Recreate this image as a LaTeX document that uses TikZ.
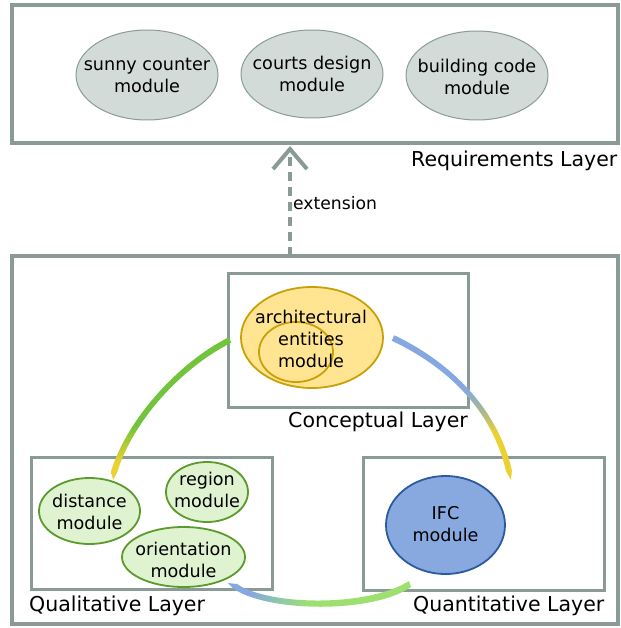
\documentclass[tikz,border=0pt]{standalone}
\usepackage{fontspec}
\setmainfont{DejaVu Sans}
\usetikzlibrary{shapes.geometric,arrows.meta}
\definecolor{boxgray}{HTML}{8A9A96}
\definecolor{reqfill}{HTML}{D3DBD8}
\definecolor{reqline}{HTML}{8A9C96}
\definecolor{yelfill}{HTML}{FFE591}
\definecolor{yelline}{HTML}{C9A008}
\definecolor{grnfill}{HTML}{DFF3D0}
\definecolor{grnline}{HTML}{5B9B2C}
\definecolor{blufill}{HTML}{87A9E0}
\definecolor{bluline}{HTML}{2C5A9E}
\definecolor{arcblue}{HTML}{86A8E0}
\definecolor{arcyel}{HTML}{EBD232}
\definecolor{arcgrn}{HTML}{72C43C}
\definecolor{arclgrn}{HTML}{9EE070}
\definecolor{arcmid}{HTML}{A8B890}
\definecolor{arcteal}{HTML}{8CC8A8}
\definecolor{txt}{HTML}{000000}
\pgfdeclareverticalshading{leftband}{100bp}{color(0bp)=(arcyel); color(31bp)=(arcyel); color(44bp)=(arcgrn); color(100bp)=(arcgrn)}
\pgfdeclareverticalshading{rightband}{100bp}{color(0bp)=(arcyel); color(41bp)=(arcyel); color(49bp)=(arcmid); color(56bp)=(arcblue); color(100bp)=(arcblue)}
\pgfdeclarehorizontalshading{bottomband}{100bp}{color(0bp)=(arcblue); color(31bp)=(arcblue); color(39bp)=(arcteal); color(47bp)=(arclgrn); color(100bp)=(arclgrn)}
\tikzset{
  outerbox/.style={draw=boxgray, line width=4pt, rectangle, inner sep=0pt, outer sep=0pt},
  innerbox/.style={draw=boxgray, line width=3pt, rectangle, fill=white, inner sep=0pt, outer sep=0pt},
  reqmod/.style={ellipse, draw=reqline, line width=1pt, fill=reqfill, inner sep=0pt},
  yelmod/.style={ellipse, draw=yelline, line width=1.8pt, fill=yelfill, inner sep=0pt},
  yelin/.style={ellipse, draw=yelline, line width=1.8pt, inner sep=0pt},
  grnmod/.style={ellipse, draw=grnline, line width=1.8pt, fill=grnfill, inner sep=0pt},
  blumod/.style={ellipse, draw=bluline, line width=1.8pt, fill=blufill, inner sep=0pt},
  modtext/.style={align=center, inner sep=0pt, text=txt, font=\fontsize{17.6}{22}\selectfont},
  layertext/.style={inner sep=0pt, text=txt, font=\fontsize{20.5}{24}\selectfont, anchor=base west},
  exttext/.style={inner sep=0pt, text=txt, font=\fontsize{17.2}{20}\selectfont, anchor=west},
  extarrow/.style={draw=boxgray, line width=4pt, dash pattern=on 9pt off 6pt, -{Straight Barb[length=20pt,width=34pt]}}
}
\begin{document}
\begin{tikzpicture}[x=1pt,y=-1pt]
\useasboundingbox (0,0) rectangle (620,628);
% requirements layer
\node[outerbox, minimum width=606pt, minimum height=138pt] (req) at (315,74) {};
\node[reqmod, minimum width=142pt, minimum height=90pt] (sunny) at (147,75) {};
\node[modtext] (sunnyt) at (sunny) {sunny counter\\module};
\node[reqmod, minimum width=142pt, minimum height=88pt] (courts) at (312,74) {};
\node[modtext] (courtst) at (courts) {courts design\\module};
\node[reqmod, minimum width=142pt, minimum height=89pt] (build) at (477,75.5) {};
\node[modtext] (buildt) at (477,77) {building code\\module};
\node[layertext] (reqlab) at (411,167) {Requirements Layer};
% base
\node[outerbox, minimum width=606pt, minimum height=368pt] (base) at (315,440) {};
\coordinate (extfrom) at (290,256);
\coordinate (extto) at (290,146);
\draw[extarrow] (extfrom) -- (extto);
\node[exttext] (extlab) at (293,203) {extension};
% conceptual
\node[innerbox, minimum width=240pt, minimum height=134pt] (concept) at (348,340) {};
\node[yelmod, minimum width=142pt, minimum height=101pt] (archout) at (312,337.5) {};
\node[yelin, minimum width=74pt, minimum height=60pt] (archin) at (296,352) {};
\node[modtext] (archt) at (311,339) {architectural\\entities\\module};
\node[layertext] (conlab) at (288,427) {Conceptual Layer};
% qualitative
\node[innerbox, minimum width=241pt, minimum height=132pt] (qual) at (151.5,523) {};
\node[grnmod, minimum width=101pt, minimum height=66pt] (dist) at (89.5,511) {};
\node[modtext] (distt) at (89.5,512) {distance\\module};
\node[grnmod, minimum width=82pt, minimum height=60pt] (region) at (207,492) {};
\node[modtext] (regiont) at (207,490) {region\\module};
\node[grnmod, minimum width=123pt, minimum height=60pt] (orient) at (183.5,557) {};
\node[modtext] (orientt) at (183.5,559.5) {orientation\\module};
\node[layertext] (quallab) at (29,611) {Qualitative Layer};
% quantitative
\node[innerbox, minimum width=241pt, minimum height=133pt] (quant) at (483.5,523.5) {};
\node[blumod, minimum width=119pt, minimum height=98pt] (ifc) at (445.5,525) {};
\node[modtext] (ifct) at (445.5,524) {IFC\\module};
\node[layertext] (quantlab) at (413,611) {Quantitative Layer};
% arcs
\shade[shading=leftband] (228.7,337.3) .. controls (178.7,362.3) and (127.1,419.1) .. (111.1,471.1)
  -- (113,480) -- (116.9,472.9)
  .. controls (132.9,420.9) and (181.3,367.7) .. (231.3,342.7) -- cycle;
\shade[shading=rightband] (394.3,335.3) .. controls (451.3,362.3) and (497.9,409.4) .. (511.9,470.4)
  -- (511,480) -- (506.1,471.6)
  .. controls (492.1,410.6) and (448.7,367.7) .. (391.7,340.7) -- cycle;
\shade[shading=bottomband] (228,583) -- (234,589) .. controls (268,612) and (372,614) .. (411,587)
  -- (409,581) .. controls (368,607) and (270,606) .. (237,584) -- cycle;
\end{tikzpicture}
\end{document}
